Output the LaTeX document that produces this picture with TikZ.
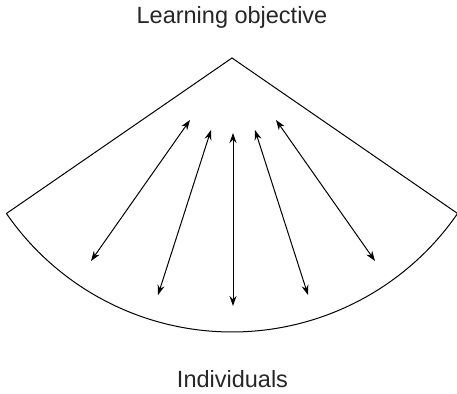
\documentclass[tikz,border=0pt]{standalone}
\usepackage{fontspec}
\setmainfont{Liberation Sans}
\usetikzlibrary{arrows.meta}
\tikzset{
  fanline/.style={line width=1pt, line join=miter},
  twoway/.style={line width=1pt, {Stealth[length=10pt,width=7pt]}-{Stealth[length=10pt,width=7pt]}},
  txt/.style={anchor=base, inner sep=0pt, font=\fontsize{23.5}{28}\selectfont, text=black!85}
}
\begin{document}
\begin{tikzpicture}[x=1pt,y=1pt]
\useasboundingbox (0,0) rectangle (457,393);
% sector
\coordinate (apex) at (232,335);
\draw[fanline] (apex) ++(214.58:274) coordinate (lc) -- (apex) -- ++(-34.58:274) coordinate (rc)
  arc[start angle=-34.58, end angle=-145.42, radius=274];
% arrow ends
\coordinate (t1) at (190,273); \coordinate (b1) at (91,132);
\coordinate (t2) at (211,263); \coordinate (b2) at (158,98);
\coordinate (t3) at (233,260); \coordinate (b3) at (233,87);
\coordinate (t4) at (255,263); \coordinate (b4) at (308,98);
\coordinate (t5) at (276,273); \coordinate (b5) at (375,132);
\draw[twoway] (t1) -- (b1);
\draw[twoway] (t2) -- (b2);
\draw[twoway] (t3) -- (b3);
\draw[twoway] (t4) -- (b4);
\draw[twoway] (t5) -- (b5);
% labels
\node[txt] (obj) at (232,369) {Learning objective};
\node[txt] (ind) at (232.5,5.7) {Individuals};
\end{tikzpicture}
\end{document}
